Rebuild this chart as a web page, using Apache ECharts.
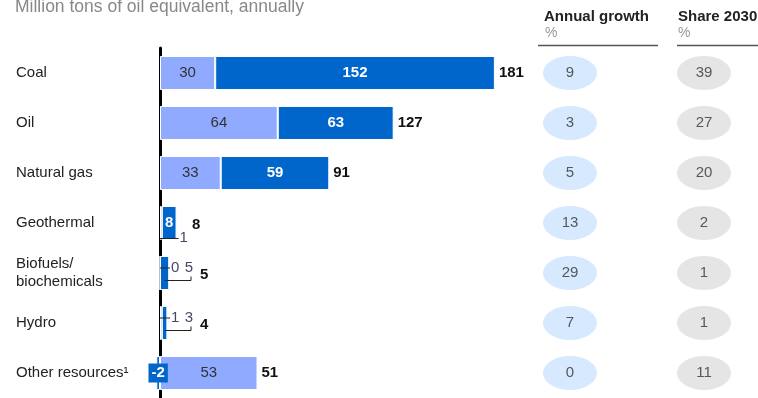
<!DOCTYPE html>
<html>
<head>
<meta charset="utf-8">
<script src="https://cdn.jsdelivr.net/npm/echarts@6/dist/echarts.min.js"></script>
<style>
  html, body { margin: 0; padding: 0; background: #fff; }
  #chart { width: 758px; height: 398px; }
</style>
</head>
<body>
<div id="chart"></div>
<script>
// Energy sources and their 2030 demand build-up (million tons of oil equivalent)
const categories = ['Coal', 'Oil', 'Natural gas', 'Geothermal', 'Biofuels/\nbiochemicals', 'Hydro', 'Other resources\u00B9'];
const baseValues = [30, 64, 33, 1, 0, 1, 53];        // light segment
const addedValues = [152, 63, 59, 8, 5, 3, -2];      // dark segment
const totals = [181, 127, 91, 8, 5, 4, 51];
const annualGrowth = [9, 3, 5, 13, 29, 7, 0];        // %
const share2030 = [39, 27, 20, 2, 1, 1, 11];         // %

const FONT = "'Liberation Sans', Arial, sans-serif";
const LIGHT = '#8faaff';
const DARK = '#0066cc';
const SMALL = 6;            // segments below this get a leader-line label
const DIGIT_W = 8.34;       // digit advance at 15px

const chart = echarts.init(document.getElementById('chart'), null, { renderer: 'canvas' });

function isSmall(v) { return v >= 0 && v < SMALL; }

// Leader-line labels for thin segments, plus the row totals
function renderCallouts(params, api) {
  const i = api.value(3);
  const light = api.value(0);
  const dark = api.value(1);
  const total = api.value(2);
  const zero = api.coord([0, i]);
  const x0 = zero[0], yc = zero[1];
  const stackEnd = api.coord([Math.max(0, light) + Math.max(0, dark), i])[0];
  const children = [];
  const lineStyle = { stroke: '#222', lineWidth: 1, fill: null };
  const calloutText = { fontSize: 15, fontFamily: FONT, fill: '#4a4566' };
  let right = stackEnd;
  let gap = 4;
  let hasCallout = false;

  const lightSmall = isSmall(light);
  const darkSmall = isSmall(dark);

  if (lightSmall) {
    hasCallout = true;
    const ly = darkSmall ? yc - 5 : yc + 15.5;
    const end = darkSmall ? x0 + 10 : stackEnd + 2;
    children.push({ type: 'line', shape: { x1: x0, y1: ly, x2: end, y2: ly }, style: lineStyle });
    children.push({
      type: 'text',
      style: Object.assign({ text: String(light), x: end + 1, y: ly - 0.5, align: 'left', verticalAlign: 'middle' }, calloutText)
    });
    right = end + 1 + String(light).length * DIGIT_W;
    gap = 4;
  }
  if (darkSmall) {
    hasCallout = true;
    const lineY = yc + 7.5;
    const start = api.coord([Math.max(0, light) + dark / 2, i])[0];
    const end = x0 + 31;
    children.push({
      type: 'polyline',
      shape: { points: [[start, lineY], [end, lineY], [end, lineY - 4]] },
      style: lineStyle
    });
    children.push({
      type: 'text',
      style: Object.assign({ text: String(dark), x: end + 2, y: yc - 5.5, align: 'right', verticalAlign: 'middle' }, calloutText)
    });
    right = Math.max(right, end + 2);
    gap = 7;
  }

  const tx = hasCallout ? right + gap : stackEnd + 4;
  children.push({
    type: 'text',
    style: {
      text: String(total), x: tx, y: yc + (hasCallout ? 1.5 : 0),
      align: 'left', verticalAlign: 'middle',
      fontSize: 15, fontWeight: 'bold', fontFamily: FONT, fill: '#111'
    }
  });
  return { type: 'group', children: children };
}

const calloutRows = categories.map((c, i) => [baseValues[i], addedValues[i], totals[i], i]);

const option = {
  animation: false,
  backgroundColor: '#fff',
  textStyle: { fontFamily: FONT },
  grid: [
    { left: 141.6, width: 386.4, top: 48, height: 350, containLabel: false, outerBoundsMode: 'none' },
    { left: 570, width: 134, top: 48, height: 350, containLabel: false, outerBoundsMode: 'none' }
  ],
  xAxis: [
    { gridIndex: 0, type: 'value', min: -10, max: 200, show: false },
    { gridIndex: 1, type: 'value', min: 0, max: 1, show: false }
  ],
  yAxis: [
    {
      gridIndex: 0, type: 'category', data: categories, inverse: true,
      axisLine: { show: true, onZero: true, lineStyle: { color: '#000', width: 3 } },
      axisTick: { show: false },
      splitLine: { show: false },
      axisLabel: {
        align: 'left', margin: 125.6, fontSize: 15, lineHeight: 18,
        color: '#222', fontFamily: FONT
      }
    },
    { gridIndex: 1, type: 'category', data: categories, inverse: true, show: false }
  ],
  series: [
    {
      name: 'Base', type: 'bar', stack: 'total', xAxisIndex: 0, yAxisIndex: 0,
      barWidth: 34,
      itemStyle: { color: LIGHT, borderColor: '#fff', borderWidth: 1 },
      label: {
        show: true, position: 'inside', color: '#333', fontSize: 15, fontFamily: FONT,
        formatter: p => (isSmall(p.value) ? '' : String(p.value))
      },
      data: baseValues
    },
    {
      name: 'Added', type: 'bar', stack: 'total', xAxisIndex: 0, yAxisIndex: 0,
      barWidth: 34,
      itemStyle: { color: DARK, borderColor: '#fff', borderWidth: 1 },
      label: {
        show: true, position: 'inside', color: '#fff', fontSize: 15, fontWeight: 'bold', fontFamily: FONT,
        formatter: p => (isSmall(p.value) ? '' : String(p.value))
      },
      data: addedValues.map(v => v < 0
        ? { value: v, label: { backgroundColor: DARK, padding: [2, 3] } }
        : v)
    },
    {
      name: 'Callouts', type: 'custom', xAxisIndex: 0, yAxisIndex: 0,
      renderItem: renderCallouts,
      encode: { x: 0, y: 3 },
      z: 5,
      data: calloutRows
    },
    {
      name: 'Annual growth', type: 'scatter', xAxisIndex: 1, yAxisIndex: 1,
      symbol: 'circle', symbolSize: [54, 34], clip: false,
      itemStyle: { color: '#cce4ff' },
      label: {
        show: true, position: 'inside', color: '#333', fontSize: 15, fontFamily: FONT,
        formatter: p => String(p.value[2])
      },
      data: annualGrowth.map((v, i) => [0, i, v])
    },
    {
      name: 'Share 2030', type: 'scatter', xAxisIndex: 1, yAxisIndex: 1,
      symbol: 'circle', symbolSize: [54, 34], clip: false,
      itemStyle: { color: '#dedede' },
      label: {
        show: true, position: 'inside', color: '#333', fontSize: 15, fontFamily: FONT,
        formatter: p => String(p.value[2])
      },
      data: share2030.map((v, i) => [1, i, v])
    }
  ],
  graphic: [
    {
      type: 'text', x: 15, y: 7.5,
      style: { text: 'Million tons of oil equivalent, annually', fontSize: 17.5, fontFamily: FONT, fill: '#888', verticalAlign: 'middle' }
    },
    {
      type: 'text', x: 544, y: 16.5,
      style: { text: 'Annual growth', fontSize: 15, fontWeight: 'bold', fontFamily: FONT, fill: '#222', verticalAlign: 'middle' }
    },
    {
      type: 'text', x: 545, y: 33.5,
      style: { text: '%', fontSize: 14, fontFamily: FONT, fill: '#999', verticalAlign: 'middle' }
    },
    {
      type: 'line', shape: { x1: 538, y1: 45.5, x2: 658, y2: 45.5 },
      style: { stroke: '#555', lineWidth: 1.5 }
    },
    {
      type: 'text', x: 678, y: 16.5,
      style: { text: 'Share 2030', fontSize: 15, fontWeight: 'bold', fontFamily: FONT, fill: '#222', verticalAlign: 'middle' }
    },
    {
      type: 'text', x: 678, y: 33.5,
      style: { text: '%', fontSize: 14, fontFamily: FONT, fill: '#999', verticalAlign: 'middle' }
    },
    {
      type: 'line', shape: { x1: 677, y1: 45.5, x2: 758, y2: 45.5 },
      style: { stroke: '#555', lineWidth: 1.5 }
    }
  ]
};

chart.setOption(option);
</script>
</body>
</html>
